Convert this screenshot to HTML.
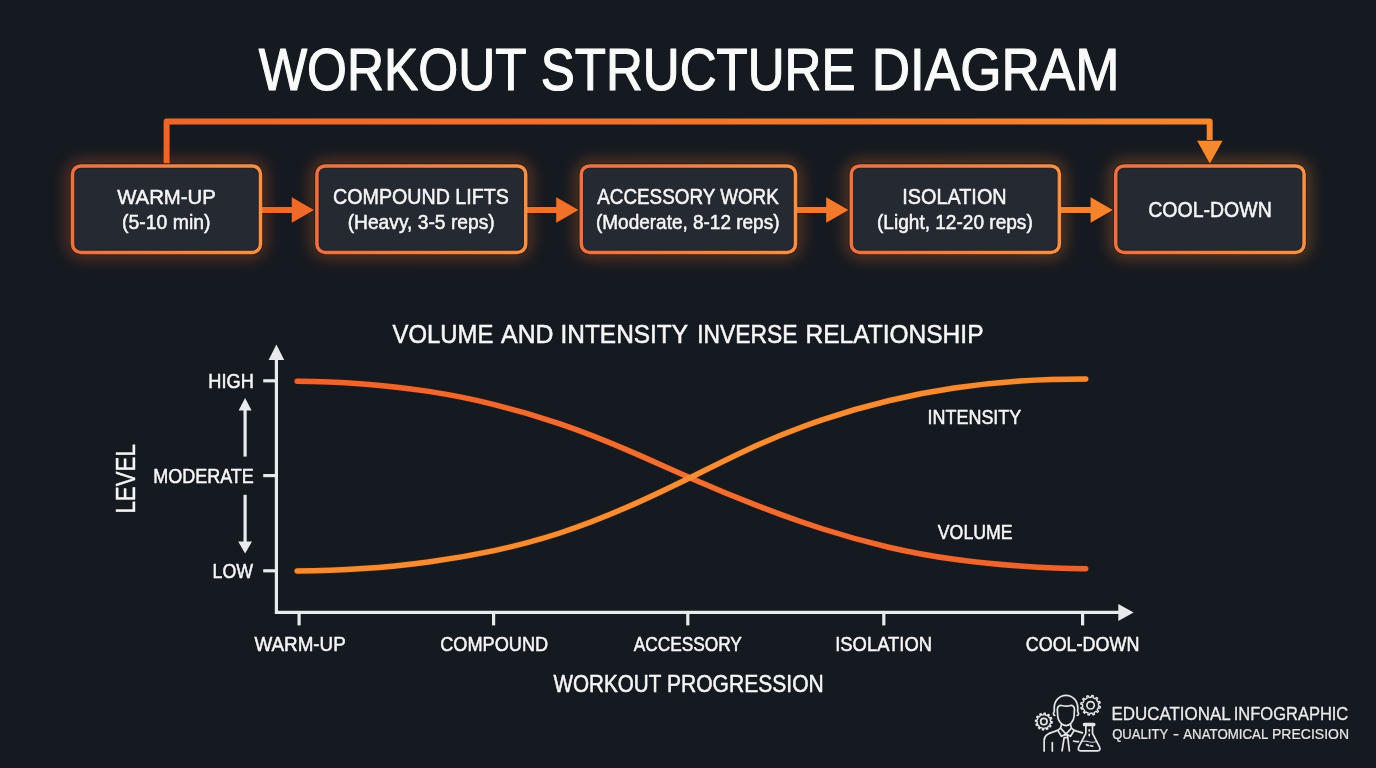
<!DOCTYPE html>
<html lang="en">
<head>
<meta charset="utf-8">
<title>Workout Structure Diagram</title>
<style>
html,body{margin:0;padding:0;background:#151920;}
body{width:1376px;height:768px;overflow:hidden;font-family:"Liberation Sans",sans-serif;}
svg{display:block;font-family:"Liberation Sans",sans-serif;}
text{stroke-linejoin:round;paint-order:stroke fill;}
</style>
</head>
<body>
<svg width="1376" height="768" viewBox="0 0 1376 768">
<defs>
<linearGradient id="og" gradientUnits="userSpaceOnUse" x1="70" y1="0" x2="1306" y2="0">
<stop offset="0" stop-color="#ee6329"/><stop offset="0.5" stop-color="#f2742b"/><stop offset="1" stop-color="#f68b2e"/>
</linearGradient>
<linearGradient id="bg" x1="0" y1="0" x2="1" y2="0">
<stop offset="0" stop-color="#e6734a"/><stop offset="1" stop-color="#f0924c"/>
</linearGradient>
<linearGradient id="vol" gradientUnits="userSpaceOnUse" x1="294" y1="0" x2="1086" y2="0">
<stop offset="0" stop-color="#ee632b"/><stop offset="0.5" stop-color="#f06f33"/><stop offset="1" stop-color="#ea622c"/>
</linearGradient>
<linearGradient id="int" gradientUnits="userSpaceOnUse" x1="294" y1="0" x2="1086" y2="0">
<stop offset="0" stop-color="#f58a32"/><stop offset="0.5" stop-color="#f78e35"/><stop offset="1" stop-color="#f38a30"/>
</linearGradient>
<filter id="glow" x="-5%" y="-60%" width="110%" height="220%"><feGaussianBlur stdDeviation="8"/></filter>
<filter id="tx" x="-2%" y="-10%" width="104%" height="120%" color-interpolation-filters="sRGB"><feGaussianBlur stdDeviation="0.3"/></filter>
</defs>
<rect width="1376" height="768" fill="#151920"/>

<g id="title" filter="url(#tx)">
<text transform="matrix(2.5661 0 0 2.9493 258.70 89.85)" font-size="20" fill="#fafafa" stroke="#fafafa" stroke-width="0.399">WORKOUT</text>
<text transform="matrix(2.5535 0 0 2.9493 540.65 89.85)" font-size="20" fill="#fafafa" stroke="#fafafa" stroke-width="0.400">STRUCTURE</text>
<text transform="matrix(2.6543 0 0 2.9493 871.65 89.85)" font-size="20" fill="#fafafa" stroke="#fafafa" stroke-width="0.393">DIAGRAM</text>
</g>
<g id="connector" fill="none" stroke-linejoin="round">
<path d="M166.6 166 V121.55 H1209.7 V142" stroke="#35150a" stroke-width="7.3" opacity="0.9"/>
<path d="M166.6 166 V121.55 H1209.7 V142" stroke="url(#og)" stroke-width="5.9"/>
</g>
<path d="M1197.1 140.7 H1222.6 L1209.85 163.6 Z" fill="#f58a2e" stroke="#35150a" stroke-width="1.3" paint-order="stroke fill"/>
<g id="glows" filter="url(#glow)" fill="none" stroke="url(#og)" stroke-width="9" opacity="0.46">
<rect x="72.4" y="165.8" width="188.2" height="86.7" rx="9"/>
<rect x="316.8" y="165.8" width="209.0" height="86.7" rx="9"/>
<rect x="581.2" y="165.8" width="214.4" height="86.7" rx="9"/>
<rect x="851.2" y="165.8" width="208.3" height="86.7" rx="9"/>
<rect x="1115.6" y="165.8" width="188.6" height="86.7" rx="9"/>
</g>
<g id="boxes" fill="#252932" stroke="#3a1808" stroke-width="5.3">
<rect x="72.5" y="165.9" width="188.0" height="86.5" rx="8.4"/>
<rect x="316.9" y="165.9" width="208.8" height="86.5" rx="8.4"/>
<rect x="581.3" y="165.9" width="214.2" height="86.5" rx="8.4"/>
<rect x="851.3" y="165.9" width="208.1" height="86.5" rx="8.4"/>
<rect x="1115.7" y="165.9" width="188.4" height="86.5" rx="8.4"/>
</g>
<g id="arrows" fill="url(#og)" stroke="#35150a" stroke-width="1.3" stroke-linejoin="miter" paint-order="stroke fill">
<path d="M261.6 206.95 H291.8 V197.25 L314.1 209.95 L291.8 222.65 V212.95 H261.6 Z"/>
<path d="M526.8 206.95 H556.2 V197.25 L578.5 209.95 L556.2 222.65 V212.95 H526.8 Z"/>
<path d="M796.6 206.95 H826.2 V197.25 L848.5 209.95 L826.2 222.65 V212.95 H796.6 Z"/>
<path d="M1060.5 206.95 H1090.6 V197.25 L1112.9 209.95 L1090.6 222.65 V212.95 H1060.5 Z"/>
</g>
<g id="boxborders" fill="none" stroke="url(#bg)" stroke-width="3.5">
<rect x="72.5" y="165.9" width="188.0" height="86.5" rx="8.4"/>
<rect x="316.9" y="165.9" width="208.8" height="86.5" rx="8.4"/>
<rect x="581.3" y="165.9" width="214.2" height="86.5" rx="8.4"/>
<rect x="851.3" y="165.9" width="208.1" height="86.5" rx="8.4"/>
<rect x="1115.7" y="165.9" width="188.4" height="86.5" rx="8.4"/>
</g>
<g id="boxtext" filter="url(#tx)">
<text transform="matrix(1.0180 0 0 1.0362 117.15 203.70)" font-size="20" fill="#f6f6f6" stroke="#f6f6f6" stroke-width="0.487">WARM-UP</text>
<text transform="matrix(0.9715 0 0 1.0000 122.00 229.20)" font-size="20" fill="#f6f6f6" stroke="#f6f6f6" stroke-width="0.507">(5-10 min)</text>
<text transform="matrix(0.9830 0 0 1.0725 333.05 204.20)" font-size="20" fill="#f6f6f6" stroke="#f6f6f6" stroke-width="0.487">COMPOUND LIFTS</text>
<text transform="matrix(0.9611 0 0 1.0000 347.65 229.20)" font-size="20" fill="#f6f6f6" stroke="#f6f6f6" stroke-width="0.510">(Heavy, 3-5 reps)</text>
<text transform="matrix(0.9426 0 0 1.0725 597.25 204.20)" font-size="20" fill="#f6f6f6" stroke="#f6f6f6" stroke-width="0.496">ACCESSORY WORK</text>
<text transform="matrix(0.9491 0 0 1.0000 596.00 229.20)" font-size="20" fill="#f6f6f6" stroke="#f6f6f6" stroke-width="0.513">(Moderate, 8-12 reps)</text>
<text transform="matrix(0.9919 0 0 1.0725 902.35 204.20)" font-size="20" fill="#f6f6f6" stroke="#f6f6f6" stroke-width="0.484">ISOLATION</text>
<text transform="matrix(0.9535 0 0 1.0000 877.00 229.20)" font-size="20" fill="#f6f6f6" stroke="#f6f6f6" stroke-width="0.512">(Light, 12-20 reps)</text>
<text transform="matrix(0.9755 0 0 1.0725 1148.25 217.00)" font-size="20" fill="#f6f6f6" stroke="#f6f6f6" stroke-width="0.488">COOL-DOWN</text>
</g>
<g id="charttitle" filter="url(#tx)">
<text transform="matrix(1.1941 0 0 1.2899 392.60 343.45)" font-size="20" fill="#f6f6f6" stroke="#f6f6f6" stroke-width="0.403">VOLUME</text>
<text transform="matrix(1.2429 0 0 1.2899 501.05 343.45)" font-size="20" fill="#f6f6f6" stroke="#f6f6f6" stroke-width="0.395">AND</text>
<text transform="matrix(1.2220 0 0 1.2899 560.50 343.45)" font-size="20" fill="#f6f6f6" stroke="#f6f6f6" stroke-width="0.398">INTENSITY</text>
<text transform="matrix(1.1429 0 0 1.2899 697.25 343.45)" font-size="20" fill="#f6f6f6" stroke="#f6f6f6" stroke-width="0.411">INVERSE</text>
<text transform="matrix(1.2273 0 0 1.2899 805.45 343.45)" font-size="20" fill="#f6f6f6" stroke="#f6f6f6" stroke-width="0.397">RELATIONSHIP</text>
</g>
<g id="axes" stroke="#e8eaec" stroke-width="3.2" fill="none" stroke-linecap="butt">
<path d="M276.4 358 V612.3 H1121"/>
<path d="M263.2 380.8 H276.4"/>
<path d="M263.2 475.6 H276.4"/>
<path d="M263.2 570.8 H276.4"/>
<path d="M299.1 612.3 V625.4"/>
<path d="M493.6 612.3 V625.4"/>
<path d="M687.8 612.3 V625.4"/>
<path d="M883.8 612.3 V625.4"/>
<path d="M1082.6 612.3 V625.4"/>
<path d="M245.1 409 V456.6"/>
<path d="M245.1 494.8 V543"/>
</g>
<g id="axheads" fill="#e8eaec">
<path d="M276.4 344.6 L284.2 360 H268.6 Z"/>
<path d="M1133.6 612.4 L1118.3 620.9 V603.9 Z"/>
<path d="M245.1 398 L251.6 410.5 H238.6 Z"/>
<path d="M245.1 553.4 L252 541.6 H238.2 Z"/>
</g>
<g id="axtext" filter="url(#tx)">
<text transform="matrix(0.9110 0 0 1.0181 208.35 387.65)" font-size="20" fill="#f6f6f6" stroke="#f6f6f6" stroke-width="0.518">HIGH</text>
<text transform="matrix(0.8999 0 0 1.0362 153.25 483.15)" font-size="20" fill="#f6f6f6" stroke="#f6f6f6" stroke-width="0.516">MODERATE</text>
<text transform="matrix(0.8882 0 0 1.0000 212.55 578.30)" font-size="20" fill="#f6f6f6" stroke="#f6f6f6" stroke-width="0.530">LOW</text>
<text transform="matrix(0 -1.1124 1.3913 0 134.90 513.50)" font-size="20" fill="#f6f6f6" stroke="#f6f6f6" stroke-width="0.240">LEVEL</text>
<text transform="matrix(0.9412 0 0 1.0000 254.45 651.00)" font-size="20" fill="#f6f6f6" stroke="#f6f6f6" stroke-width="0.515">WARM-UP</text>
<text transform="matrix(0.9087 0 0 1.0181 440.20 650.85)" font-size="20" fill="#f6f6f6" stroke="#f6f6f6" stroke-width="0.519">COMPOUND</text>
<text transform="matrix(0.8650 0 0 1.0181 633.65 650.85)" font-size="20" fill="#f6f6f6" stroke="#f6f6f6" stroke-width="0.531">ACCESSORY</text>
<text transform="matrix(0.9206 0 0 1.0181 835.20 650.85)" font-size="20" fill="#f6f6f6" stroke="#f6f6f6" stroke-width="0.516">ISOLATION</text>
<text transform="matrix(0.8986 0 0 1.0181 1025.70 650.85)" font-size="20" fill="#f6f6f6" stroke="#f6f6f6" stroke-width="0.522">COOL-DOWN</text>
<text transform="matrix(1.0340 0 0 1.2174 553.45 692.35)" font-size="20" fill="#f6f6f6" stroke="#f6f6f6" stroke-width="0.444">WORKOUT</text>
<text transform="matrix(1.0531 0 0 1.2174 667.00 692.35)" font-size="20" fill="#f6f6f6" stroke="#f6f6f6" stroke-width="0.440">PROGRESSION</text>
<text transform="matrix(0.8990 0 0 1.0000 927.50 423.60)" font-size="20" fill="#f6f6f6" stroke="#f6f6f6" stroke-width="0.527">INTENSITY</text>
<text transform="matrix(0.8858 0 0 1.0181 937.80 539.25)" font-size="20" fill="#f6f6f6" stroke="#f6f6f6" stroke-width="0.525">VOLUME</text>
</g>
<g id="curves" fill="none" stroke-linecap="round" stroke-linejoin="round">
<path d="M297.2 381.2 C319.1 381.2 341.0 382.2 362.9 383.9 C384.8 385.6 406.7 388.0 428.6 391.4 C450.5 394.8 472.4 399.1 494.3 404.6 C516.2 410.0 538.1 416.4 560.0 423.9 C581.9 431.4 603.8 440.0 625.7 449.4 C647.6 458.8 669.5 468.8 691.5 478.4 C713.4 488.0 735.3 497.1 757.2 505.6 C779.1 514.1 801.0 522.0 822.9 529.0 C844.8 536.0 866.7 542.1 888.6 547.2 C910.5 552.3 932.4 556.2 954.3 559.3 C976.2 562.4 998.1 564.5 1020.0 566.0 C1041.9 567.6 1063.8 568.7 1085.7 568.7" stroke="#38140a" stroke-width="7.2" opacity="0.9"/>
<path d="M297.2 570.9 C319.1 570.9 341.0 570.2 362.9 568.6 C384.8 567.1 406.7 564.8 428.6 561.9 C450.5 559.0 472.4 555.3 494.3 550.6 C516.2 545.9 538.1 540.1 560.0 533.0 C581.9 525.8 603.8 517.3 625.7 507.8 C647.6 498.3 669.5 487.8 691.5 477.0 C713.4 466.2 735.3 455.0 757.2 445.2 C779.1 435.5 801.0 427.0 822.9 419.6 C844.8 412.2 866.7 405.9 888.6 400.7 C910.5 395.4 932.4 391.2 954.3 388.0 C976.2 384.8 998.1 382.5 1020.0 381.0 C1041.9 379.5 1063.8 379.0 1085.7 379.0" stroke="#3a1c08" stroke-width="7.2" opacity="0.9"/>
<path d="M297.2 381.2 C319.1 381.2 341.0 382.2 362.9 383.9 C384.8 385.6 406.7 388.0 428.6 391.4 C450.5 394.8 472.4 399.1 494.3 404.6 C516.2 410.0 538.1 416.4 560.0 423.9 C581.9 431.4 603.8 440.0 625.7 449.4 C647.6 458.8 669.5 468.8 691.5 478.4 C713.4 488.0 735.3 497.1 757.2 505.6 C779.1 514.1 801.0 522.0 822.9 529.0 C844.8 536.0 866.7 542.1 888.6 547.2 C910.5 552.3 932.4 556.2 954.3 559.3 C976.2 562.4 998.1 564.5 1020.0 566.0 C1041.9 567.6 1063.8 568.7 1085.7 568.7" stroke="url(#vol)" stroke-width="5.5"/>
<path d="M297.2 570.9 C319.1 570.9 341.0 570.2 362.9 568.6 C384.8 567.1 406.7 564.8 428.6 561.9 C450.5 559.0 472.4 555.3 494.3 550.6 C516.2 545.9 538.1 540.1 560.0 533.0 C581.9 525.8 603.8 517.3 625.7 507.8 C647.6 498.3 669.5 487.8 691.5 477.0 C713.4 466.2 735.3 455.0 757.2 445.2 C779.1 435.5 801.0 427.0 822.9 419.6 C844.8 412.2 866.7 405.9 888.6 400.7 C910.5 395.4 932.4 391.2 954.3 388.0 C976.2 384.8 998.1 382.5 1020.0 381.0 C1041.9 379.5 1063.8 379.0 1085.7 379.0" stroke="url(#int)" stroke-width="5.5"/>
</g>
<g id="logotext" filter="url(#tx)">
<text transform="matrix(0.8477 0 0 0.8877 1111.45 720.05)" font-size="20" fill="#ececec" stroke="#ececec" stroke-width="0.346">EDUCATIONAL</text>
<text transform="matrix(0.8254 0 0 0.8877 1233.75 720.05)" font-size="20" fill="#ececec" stroke="#ececec" stroke-width="0.350">INFOGRAPHIC</text>
<text transform="matrix(0.6551 0 0 0.6942 1112.16 739.24)" font-size="20" fill="#e6e6e6" stroke="#e6e6e6" stroke-width="0.326">QUALITY</text>
<text transform="matrix(0.9075 0 0 0.6942 1173.06 739.24)" font-size="20" fill="#e6e6e6" stroke="#e6e6e6" stroke-width="0.275">-</text>
<text transform="matrix(0.6644 0 0 0.6942 1183.21 739.24)" font-size="20" fill="#e6e6e6" stroke="#e6e6e6" stroke-width="0.324">ANATOMICAL</text>
<text transform="matrix(0.7003 0 0 0.6942 1272.01 739.24)" font-size="20" fill="#e6e6e6" stroke="#e6e6e6" stroke-width="0.316">PRECISION</text>
</g>
<g id="icon" fill="none" stroke="#e6e6e6" stroke-width="1.7" stroke-linecap="round" stroke-linejoin="round">
<path d="M1054.78 715.33 C1053.23 715.33 1052.96 712.60 1054.24 711.87 L1054.24 707.59 C1054.24 700.76 1059.52 695.29 1065.99 695.29 C1072.46 695.29 1077.74 700.76 1077.74 707.59 L1077.74 711.87 C1079.02 712.60 1078.75 715.33 1077.20 715.33"/>
<path d="M1057.33 709.41 C1057.33 706.68 1059.16 705.31 1061.44 705.49 C1064.62 706.22 1068.27 706.22 1070.55 705.49 C1072.82 705.31 1074.46 706.68 1074.46 709.41 L1074.10 716.25 C1073.74 721.26 1070.09 725.36 1065.99 725.54 C1061.89 725.36 1058.06 721.26 1057.70 716.25 Z"/>
<path d="M1061.44 724.45 L1060.52 728.09 L1065.99 734.01 L1071.46 728.09 L1070.55 724.45"/>
<path d="M1060.52 728.09 L1057.79 730.37 L1061.44 736.29 L1065.08 734.47"/>
<path d="M1071.46 728.09 L1074.19 730.37 L1070.55 736.29 L1066.90 734.47"/>
<path d="M1064.62 734.92 L1067.36 734.92 L1067.81 737.66 L1069.36 750.87 M1064.17 737.66 L1062.07 750.87 M1064.17 737.66 L1067.81 737.66"/>
<path d="M1057.79 730.37 C1050.96 732.65 1044.12 734.01 1044.12 740.39 L1044.12 751.05"/>
<path d="M1074.19 730.37 L1082.39 732.83"/>
<path d="M1052.32 742.49 L1052.32 751.05"/>
<path d="M1073.55 741.03 Q1076.01 741.94 1078.47 741.58"/>
<path d="M1084.49 723.54 H1093.78 Q1094.69 723.54 1094.69 724.45 Q1094.69 725.45 1093.78 725.45 H1084.49 Q1083.58 725.45 1083.58 724.45 Q1083.58 723.54 1084.49 723.54 Z"/>
<path d="M1085.85 725.54 L1085.85 733.38 L1078.66 747.23 Q1077.38 750.87 1080.66 750.87 L1097.61 750.87 Q1100.89 750.87 1099.61 747.23 L1092.51 733.38 L1092.51 725.54"/>
<path d="M1081.57 741.58 Q1085.58 740.57 1089.23 741.76 T1096.88 741.58" stroke-width="1.1" opacity="0.85"/>
<path d="M1086.49 744.67 L1088.31 745.40 M1090.32 745.77 L1092.69 746.13 M1089.23 729.73 L1089.23 730.82 M1089.23 734.29 L1089.23 735.56"/>
<path d="M1098.59 705.15 L1098.56 705.99 L1100.41 706.56 L1100.12 707.98 L1098.20 707.79 L1097.60 709.17 L1097.16 709.88 L1098.47 711.31 L1097.51 712.39 L1095.94 711.26 L1094.73 712.16 L1093.99 712.55 L1094.42 714.44 L1093.04 714.90 L1092.25 713.14 L1090.75 713.31 L1089.91 713.28 L1089.34 715.13 L1087.92 714.84 L1088.11 712.92 L1086.73 712.32 L1086.02 711.88 L1084.60 713.19 L1083.51 712.23 L1084.64 710.66 L1083.75 709.45 L1083.35 708.71 L1081.46 709.14 L1081.00 707.76 L1082.77 706.97 L1082.59 705.47 L1082.62 704.63 L1080.77 704.06 L1081.06 702.64 L1082.99 702.83 L1083.59 701.45 L1084.03 700.74 L1082.71 699.32 L1083.67 698.23 L1085.25 699.36 L1086.46 698.46 L1087.19 698.07 L1086.77 696.18 L1088.14 695.72 L1088.94 697.49 L1090.43 697.31 L1091.27 697.34 L1091.84 695.49 L1093.26 695.78 L1093.07 697.71 L1094.45 698.31 L1095.16 698.75 L1096.59 697.43 L1097.67 698.39 L1096.54 699.97 L1097.44 701.17 L1097.83 701.91 L1099.72 701.49 L1100.18 702.86 L1098.42 703.66 Z" stroke-width="1.4"/>
<circle cx="1090.59" cy="705.31" r="3.7"/>
<path d="M1050.50 720.73 L1050.55 721.43 L1052.25 721.75 L1052.12 722.98 L1050.40 722.96 L1050.01 724.16 L1049.70 724.79 L1051.01 725.92 L1050.29 726.92 L1048.80 726.04 L1047.87 726.89 L1047.29 727.28 L1047.85 728.91 L1046.73 729.42 L1045.88 727.91 L1044.65 728.18 L1043.95 728.23 L1043.63 729.93 L1042.40 729.80 L1042.42 728.08 L1041.22 727.69 L1040.59 727.38 L1039.46 728.69 L1038.46 727.97 L1039.34 726.48 L1038.49 725.55 L1038.10 724.97 L1036.47 725.54 L1035.96 724.41 L1037.47 723.56 L1037.20 722.33 L1037.15 721.63 L1035.45 721.31 L1035.58 720.08 L1037.30 720.10 L1037.69 718.90 L1038.00 718.27 L1036.69 717.14 L1037.41 716.14 L1038.90 717.02 L1039.83 716.17 L1040.41 715.78 L1039.85 714.15 L1040.97 713.64 L1041.82 715.15 L1043.05 714.88 L1043.75 714.83 L1044.07 713.13 L1045.30 713.26 L1045.28 714.99 L1046.48 715.37 L1047.11 715.68 L1048.24 714.37 L1049.24 715.09 L1048.36 716.58 L1049.21 717.51 L1049.60 718.09 L1051.23 717.53 L1051.74 718.65 L1050.23 719.50 Z" stroke-width="1.4"/>
<circle cx="1043.85" cy="721.53" r="3.2"/>
</g>
</svg>
</body>
</html>
